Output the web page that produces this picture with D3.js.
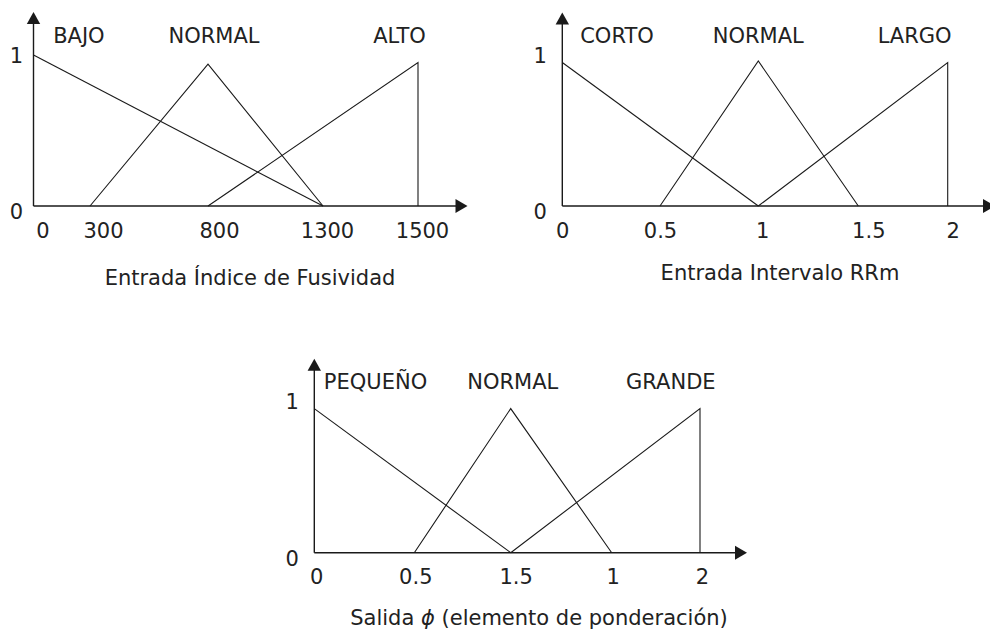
<!DOCTYPE html>
<html lang="es">
<head>
<meta charset="UTF-8">
<title>Funciones de pertenencia</title>
<script src="https://d3js.org/d3.v7.min.js"></script>
<style>
    body { margin: 0; padding: 0; background: #fff; }
    svg { display: block; }
    text { font-family: "DejaVu Sans", sans-serif; font-size: 21px; fill: #222; }
</style>
</head>
<body>
<div id="chart"></div>
<script>
    // --- datos ---
    const fusTicks = [0, 300, 800, 1300, 1500];
    const fusTickLabels = ["0", "300", "800", "1300", "1500"];
    const fusSets = ["BAJO", "NORMAL", "ALTO"];
    const fusBajo = [[0, 1], [1300, 0]];
    const fusNormal = [[300, 0], [800, 0.94], [1300, 0]];
    const fusAlto = [[800, 0], [1500, 0.95], [1500, 0]];
    const fusTitle = "Entrada Índice de Fusividad";

    const rrTicks = [0, 0.5, 1, 1.5, 2];
    const rrTickLabels = ["0", "0.5", "1", "1.5", "2"];
    const rrSets = ["CORTO", "NORMAL", "LARGO"];
    const rrCorto = [[0, 0.95], [1, 0]];
    const rrNormal = [[0.5, 0], [1, 0.96], [1.5, 0]];
    const rrLargo = [[1, 0], [2, 0.95], [2, 0]];
    const rrTitle = "Entrada Intervalo RRm";

    const phiTicks = [0, 0.5, 1, 1.5, 2];
    const phiTickLabels = ["0", "0.5", "1.5", "1", "2"];   // tal cual aparecen
    const phiSets = ["PEQUEÑO", "NORMAL", "GRANDE"];
    const phiPequeno = [[0, 0.95], [1, 0]];
    const phiNormal = [[0.5, 0], [1, 0.95], [1.5, 0]];
    const phiGrande = [[1, 0], [2, 0.95], [2, 0]];

    const yTicks = [0, 1];
    const yTickLabels = ["0", "1"];

    // --- layout de cada grafico ---
    const charts = [
        {
            ticks: fusTicks, tickLabels: fusTickLabels, sets: fusSets,
            series: [fusBajo, fusNormal, fusAlto], title: [fusTitle],
            xRange: [33.5, 90, 208, 323, 418], xEnd: 467.5,
            y0: 206, y1: 55, yTip: 12,
            labelAt: [241, 826, 1461], tickDx: [9, 13, 11, 4, 4],
            yLabelDx: -17, titleX: 250, titleDy: 79
        },
        {
            ticks: rrTicks, tickLabels: rrTickLabels, sets: rrSets,
            series: [rrCorto, rrNormal, rrLargo], title: [rrTitle],
            xRange: [562.3, 660, 758.3, 858.3, 947.7], xEnd: 995,
            y0: 206, y1: 55, yTip: 12.5,
            labelAt: [0.28, 1.0, 1.815], tickDx: [0, 0, 4, 10, 5],
            yLabelDx: -22, titleX: 780, titleDy: 73.5
        },
        {
            ticks: phiTicks, tickLabels: phiTickLabels, sets: phiSets,
            series: [phiPequeno, phiNormal, phiGrande],
            title: ["Salida ", "ϕ", " (elemento de ponderación)"],
            xRange: [314.3, 414.3, 510.7, 611.7, 700], xEnd: 747,
            y0: 552.7, y1: 401, yTip: 358.7,
            labelAt: [0.306, 1.01, 1.835], tickDx: [2, 1, 5, 1, 2],
            yLabelDx: -22, titleX: 539, titleDy: 72
        }
    ];

    const width = 990, height = 632;
    const svg = d3.select("#chart").append("svg")
        .attr("width", width).attr("height", height);

    const ink = "#1a1a1a";

    charts.forEach(c => {
        const x = d3.scaleLinear().domain(c.ticks).range(c.xRange);
        const y = d3.scaleLinear().domain([0, 1]).range([c.y0, c.y1]);
        const x0 = x(c.ticks[0]);
        const g = svg.append("g");

        // ejes con flecha
        g.append("line")
            .attr("x1", x0).attr("y1", c.y0).attr("x2", c.xEnd - 11).attr("y2", c.y0)
            .attr("stroke", ink).attr("stroke-width", 1.4);
        g.append("path")
            .attr("d", `M${c.xEnd},${c.y0}L${c.xEnd - 12},${c.y0 - 7}L${c.xEnd - 12},${c.y0 + 7}Z`)
            .attr("fill", ink);
        g.append("line")
            .attr("x1", x0).attr("y1", c.y0).attr("x2", x0).attr("y2", c.yTip + 11)
            .attr("stroke", ink).attr("stroke-width", 1.4);
        g.append("path")
            .attr("d", `M${x0},${c.yTip}L${x0 - 6.7},${c.yTip + 12}L${x0 + 6.7},${c.yTip + 12}Z`)
            .attr("fill", ink);

        // etiquetas del eje x
        const ax = g.append("g")
            .attr("transform", `translate(0,${c.y0})`)
            .call(d3.axisBottom(x).tickValues(c.ticks).tickSize(0)
                .tickFormat((d, i) => c.tickLabels[i]));
        ax.select(".domain").remove();
        ax.attr("font-size", null).attr("font-family", null);
        ax.selectAll("text")
            .attr("y", 31.5).attr("dy", 0)
            .attr("dx", (d, i) => c.tickDx[i])
            .style("font-size", "21px").style("fill", "#222");

        // etiquetas del eje y
        const ay = g.append("g")
            .attr("transform", `translate(${x0},0)`)
            .call(d3.axisLeft(y).tickValues(yTicks).tickSize(0)
                .tickFormat((d, i) => yTickLabels[i]));
        ay.select(".domain").remove();
        ay.attr("font-size", null).attr("font-family", null);
        ay.selectAll("text")
            .attr("x", c.yLabelDx).attr("dy", 0)
            .attr("y", d => d === 0 ? 12.5 : 7.5)
            .attr("text-anchor", "middle")
            .style("font-size", "21px").style("fill", "#222");

        // funciones de pertenencia
        const line = d3.line().x(d => x(d[0])).y(d => y(d[1]));
        g.selectAll("path.mf")
            .data(c.series)
            .join("path")
            .attr("class", "mf")
            .attr("d", line)
            .attr("fill", "none")
            .attr("stroke", ink)
            .attr("stroke-width", 1.1);

        // nombres de los conjuntos
        g.selectAll("text.set")
            .data(c.sets)
            .join("text")
            .attr("class", "set")
            .attr("x", (d, i) => x(c.labelAt[i]))
            .attr("y", y(1) - 12.3)
            .attr("text-anchor", "middle")
            .text(d => d);

        // titulo
        const t = g.append("text")
            .attr("x", c.titleX)
            .attr("y", c.y0 + c.titleDy)
            .attr("text-anchor", "middle");
        c.title.forEach(s => {
            t.append("tspan")
                .style("font-style", s === "ϕ" ? "italic" : null)
                .text(s);
        });
    });
</script>
</body>
</html>
